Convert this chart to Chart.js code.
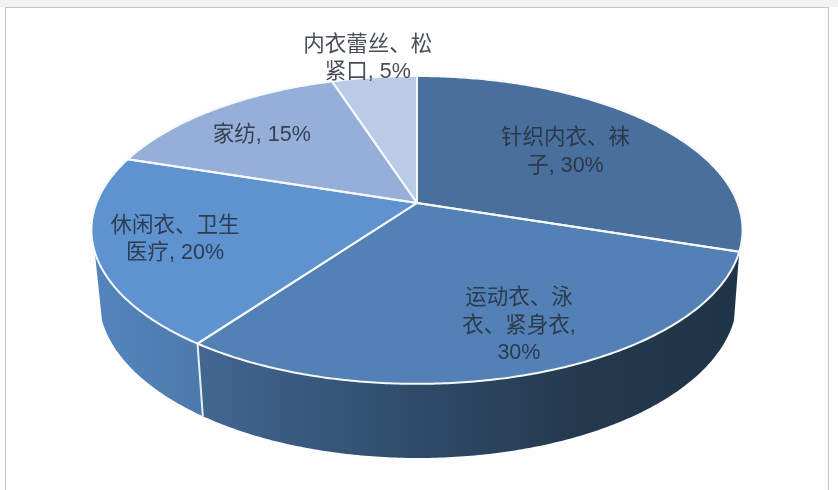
<!DOCTYPE html>
<html>
<head>
<meta charset="utf-8">
<script src="https://cdn.jsdelivr.net/npm/chart.js@4"></script>
<style>
html,body{margin:0;padding:0;width:838px;height:490px;overflow:hidden;background:#fefefe}
#strip{position:absolute;left:0;top:0;width:838px;height:7px;background:#f2f2f3}
#frame{position:absolute;left:5px;top:7px;width:822px;height:490px;border:1px solid #c6c6c8;background:#fefefe}
#wrap{position:absolute;left:0;top:0;width:838px;height:490px}
</style>
</head>
<body>
<div id="strip"></div>
<div id="frame"></div>
<div id="wrap"><canvas id="c" width="838" height="490"></canvas></div>
<script>
const categories = ["针织内衣、袜子","运动衣、泳衣、紧身衣","休闲衣、卫生医疗","家纺","内衣蕾丝、松紧口"];
const shares = [30,30,20,15,5];
const sliceColors = ["#49709c","#5381b5","#5e93d0","#95afd9","#b9cbe6"];
const labelLines = [
  ["针织内衣、袜","子, 30%"],
  ["运动衣、泳","衣、紧身衣,","30%"],
  ["休闲衣、卫生","医疗, 20%"],
  ["家纺, 15%"],
  ["内衣蕾丝、松","紧口, 5%"]
];

const view = {
  k: 0.175,
  top: {rx: 1.579, ry: 0.735, dx: 0, dy: 0},
  bottom: {rx: 1.548, ry: 0.764, dx: 1, dy: 67},
  sideFrom: 18, sideTo: 162,
  labelRadius: [0.613,0.772,0.761,0.723,1.18],
  labelTurn: [-0.5,-3.1,0,-1.7,0],
  lineHeight: 27.5
};

function project(arc, lens, theta, r) {
  const u = r*Math.cos(theta), v = r*Math.sin(theta), w = 1 - view.k*v;
  const base = arc.outerRadius;
  return {x: arc.x + lens.dx + base*lens.rx*u/w, y: arc.y + lens.dy + base*lens.ry*v/w};
}
function rimPath(ctx, arc, lens, a, b, move) {
  const n = Math.max(2, Math.ceil(Math.abs(b-a)/0.01));
  for (let i=0;i<=n;i++){
    const p = project(arc, lens, a+(b-a)*i/n, 1);
    if (i===0 && move) ctx.moveTo(p.x,p.y); else ctx.lineTo(p.x,p.y);
  }
}
function sideFill(ctx, idx) {
  const g = ctx.createLinearGradient(95,0,740,0);
  if (idx === 1) {
    g.addColorStop(0,'#4b76a4');g.addColorStop(0.17,'#416690');g.addColorStop(0.5,'#2f4b69');
    g.addColorStop(0.75,'#24394e');g.addColorStop(1,'#203447');
  } else {
    g.addColorStop(0,'#5385bd');g.addColorStop(0.17,'#4c79aa');g.addColorStop(1,'#4c79aa');
  }
  return g;
}
const pie3d = {
  id:'pie3d',
  beforeDatasetsDraw(chart){
    const ctx = chart.ctx, arcs = chart.getDatasetMeta(0).data;
    const from = view.sideFrom*Math.PI/180, to = view.sideTo*Math.PI/180;
    ctx.save();
    ctx.lineJoin='round';
    arcs.forEach((arc,i)=>{
      const a = Math.max(arc.startAngle,from), b = Math.min(arc.endAngle,to);
      if (b<=a) return;
      ctx.beginPath();
      rimPath(ctx,arc,view.top,a,b,true);
      rimPath(ctx,arc,view.bottom,b,a,false);
      ctx.closePath();
      ctx.fillStyle = sideFill(ctx,i);
      ctx.fill();
    });
    arcs.forEach(arc=>{
      if (arc.startAngle>from && arc.startAngle<to){
        const p=project(arc,view.top,arc.startAngle,1), q=project(arc,view.bottom,arc.startAngle,1);
        ctx.beginPath();ctx.moveTo(p.x,p.y);ctx.lineTo(q.x,q.y);
        ctx.strokeStyle='#e9eef3';ctx.lineWidth=2;ctx.stroke();
      }
    });
    arcs.forEach((arc,i)=>{
      ctx.beginPath();
      ctx.moveTo(arc.x,arc.y);
      rimPath(ctx,arc,view.top,arc.startAngle,arc.endAngle,false);
      ctx.closePath();
      ctx.fillStyle = arc.options.backgroundColor;
      ctx.fill();
    });
    arcs.forEach(arc=>{
      ctx.beginPath();
      ctx.moveTo(arc.x,arc.y);
      rimPath(ctx,arc,view.top,arc.startAngle,arc.endAngle,false);
      ctx.closePath();
      ctx.strokeStyle='#f6f8fa';ctx.lineWidth=2;ctx.stroke();
    });
    ctx.textAlign='center';ctx.textBaseline='middle';
    ctx.font='21.5px "Liberation Sans","Noto Sans CJK SC",sans-serif';
    ctx.fillStyle='rgba(38,46,60,0.85)';
    arcs.forEach((arc,i)=>{
      const mid=(arc.startAngle+arc.endAngle)/2+view.labelTurn[i]*Math.PI/180;
      const c=project(arc,view.top,mid,view.labelRadius[i]);
      const lines=labelLines[i];
      lines.forEach((t,j)=>{
        ctx.fillText(t,c.x,c.y+(j-(lines.length-1)/2)*view.lineHeight);
      });
    });
    ctx.restore();
    return false;
  }
};
new Chart(document.getElementById('c'),{
  type:'pie',
  data:{labels:categories,datasets:[{data:shares,backgroundColor:sliceColors,borderWidth:0}]},
  options:{
    responsive:false,animation:false,
    layout:{padding:{left:0,right:4,top:0,bottom:84}},
    plugins:{legend:{display:false},tooltip:{enabled:false}}
  },
  plugins:[pie3d]
});
</script>
</body>
</html>
